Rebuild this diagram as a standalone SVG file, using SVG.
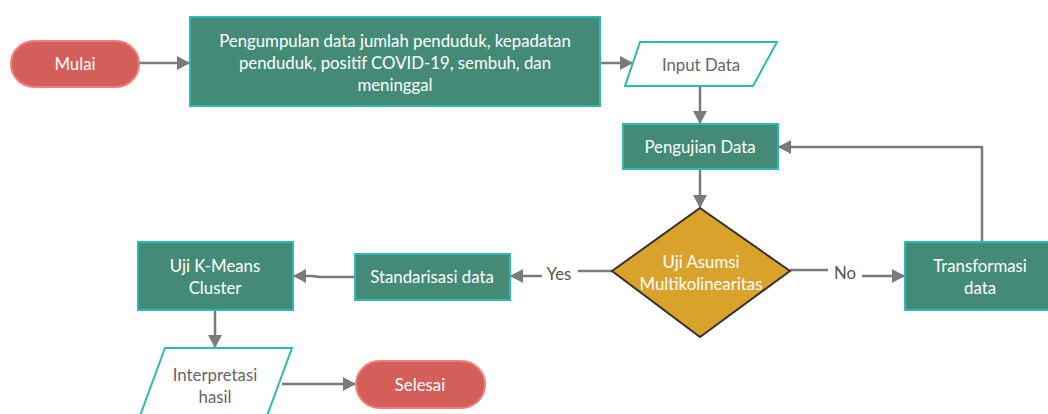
<svg xmlns="http://www.w3.org/2000/svg" width="1048" height="414" viewBox="0 0 1048 414">
<style>
.proc{fill:#438b77;stroke:#2bbab5;stroke-width:2}
.term{fill:#d45f59;stroke:#f27e79;stroke-width:2}
.io{fill:#ffffff;stroke:#2bbab5;stroke-width:2}
.dec{fill:#d9a22b;stroke:#333333;stroke-width:2}
.wt{font-family:Lato,"Open Sans","Liberation Sans",sans-serif;font-size:16.8px;fill:#ffffff;text-anchor:middle}
.gt{font-family:Lato,"Open Sans","Liberation Sans",sans-serif;font-size:16.8px;fill:#666666;text-anchor:middle}
.lbl{font-family:Lato,"Open Sans","Liberation Sans",sans-serif;font-size:16.8px;fill:#555555;text-anchor:middle}
.c{fill:none;stroke:#7a7a7a;stroke-width:2.5}
</style>
<defs>
<marker id="ah" markerWidth="13" markerHeight="14" refX="12" refY="7" orient="auto" markerUnits="userSpaceOnUse" viewBox="0 0 13 14">
<path d="M0,0 L13,7 L0,14 Z" fill="#7a7a7a"/>
</marker>
</defs>
<rect width="1048" height="414" fill="#ffffff"/>
<g id="connectors">
<path class="c" d="M139,63 L189,63" marker-end="url(#ah)"/>
<path class="c" d="M600,63 L632,63" marker-end="url(#ah)"/>
<path class="c" d="M700,87 L700,123" marker-end="url(#ah)"/>
<path class="c" d="M700,169 L700,207" marker-end="url(#ah)"/>
<path class="c" d="M982,242 L982,147 L779,147" marker-end="url(#ah)"/>
<path class="c" d="M790,270 L828,270"/>
<text class="lbl" x="845" y="279">No</text>
<path class="c" d="M862,276 L904,276" marker-end="url(#ah)"/>
<path class="c" d="M612,271 L578,271"/>
<text class="lbl" x="559" y="280">Yes</text>
<path class="c" d="M542,276 L511,276" marker-end="url(#ah)"/>
<path class="c" d="M355,277 L320,277 L312,276 L294,276" marker-end="url(#ah)"/>
<path class="c" d="M215,310 L215,347" marker-end="url(#ah)"/>
<path class="c" d="M282,384 L355,384" marker-end="url(#ah)"/>
</g>
<g id="mulai">
<rect class="term" x="11" y="41" width="128" height="46" rx="23"/>
<text class="wt" x="75" y="70">Mulai</text>
</g>
<g id="pengumpulan">
<rect class="proc" x="190" y="17" width="410" height="89"/>
<text class="wt" x="395" y="47">Pengumpulan data jumlah penduduk, kepadatan</text>
<text class="wt" x="395" y="69">penduduk, positif COVID-19, sembuh, dan</text>
<text class="wt" x="395" y="91">meninggal</text>
</g>
<g id="input">
<polygon class="io" points="640,42 777,42 753,86 625,86"/>
<text class="gt" x="701" y="71">Input Data</text>
</g>
<g id="pengujian">
<rect class="proc" x="623" y="124" width="155" height="45"/>
<text class="wt" x="700" y="153">Pengujian Data</text>
</g>
<g id="uji-asumsi">
<polygon class="dec" points="700,208 790,271 700,337 612,271"/>
<text class="wt" x="701" y="268">Uji Asumsi</text>
<text class="wt" x="701" y="290">Multikolinearitas</text>
</g>
<g id="transformasi">
<rect class="proc" x="905" y="242" width="150" height="68"/>
<text class="wt" x="980" y="272">Transformasi</text>
<text class="wt" x="980" y="294">data</text>
</g>
<g id="standarisasi">
<rect class="proc" x="355" y="254" width="155" height="46"/>
<text class="wt" x="432" y="283">Standarisasi data</text>
</g>
<g id="kmeans">
<rect class="proc" x="138" y="242" width="155" height="68"/>
<text class="wt" x="215" y="272">Uji K-Means</text>
<text class="wt" x="215" y="294">Cluster</text>
</g>
<g id="interpretasi">
<polygon class="io" points="165,348 292,348 264,424 137,424"/>
<text class="gt" x="215" y="381">Interpretasi</text>
<text class="gt" x="215" y="403">hasil</text>
</g>
<g id="selesai">
<rect class="term" x="356" y="361" width="129" height="47" rx="23.5"/>
<text class="wt" x="420" y="391">Selesai</text>
</g>
</svg>
